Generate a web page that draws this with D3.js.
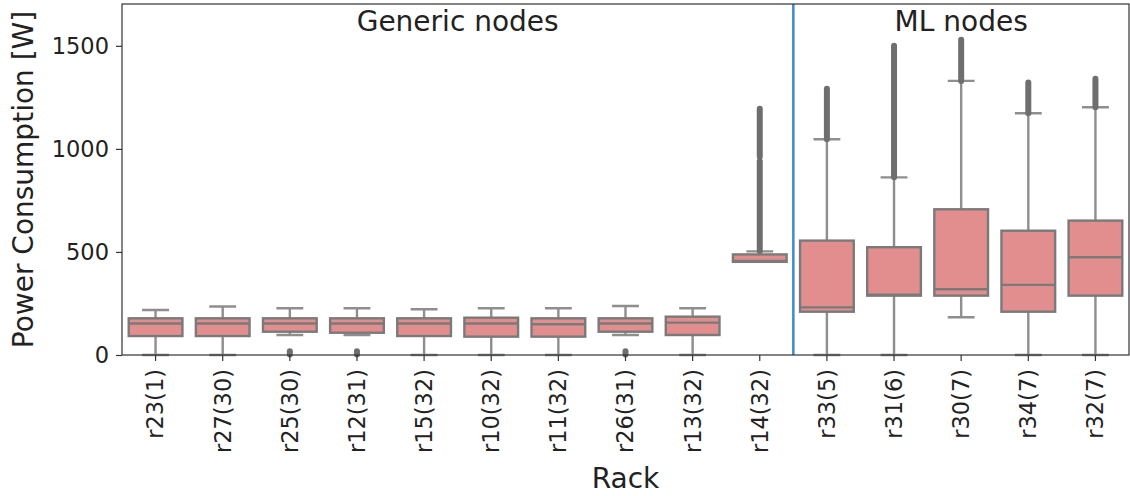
<!DOCTYPE html>
<html>
<head>
<meta charset="utf-8">
<script src="https://cdn.jsdelivr.net/npm/d3@7.9.0/dist/d3.min.js"></script>
<style>
  html, body { margin: 0; padding: 0; background: #fff; }
  svg { display: block; font-family: "DejaVu Sans", sans-serif; }
</style>
</head>
<body>
<svg id="chart" width="1130" height="496"></svg>
<script>
// rack labels (node count in brackets)
const racks = ["r23(1)", "r27(30)", "r25(30)", "r12(31)", "r15(32)", "r10(32)", "r11(32)",
  "r26(31)", "r13(32)", "r14(32)", "r33(5)", "r31(6)", "r30(7)", "r34(7)", "r32(7)"];

// box statistics per rack, in W
const whiskerLow  = [0, 0, 97, 97, 0, 0, 0, 97, 0, 452, 0, 0, 183, 0, 0];
const q1          = [92, 92, 113, 108, 92, 89, 89, 113, 97, 452, 210, 288, 288, 210, 288];
const median      = [153, 153, 153, 153, 153, 153, 149, 153, 157, 456, 231, 292, 319, 340, 474];
const q3          = [178, 178, 178, 178, 178, 181, 178, 178, 186, 488, 555, 523, 707, 603, 652];
const whiskerHigh = [218, 235, 227, 227, 222, 227, 227, 238, 227, 503, 1047, 862, 1330, 1173, 1202];

// outlier ranges (dense flier strips): [rack, from, to]
const outliers = [
  ["r25(30)", 3, 18], ["r12(31)", 3, 18], ["r26(31)", 3, 18],
  ["r14(32)", 505, 940], ["r14(32)", 962, 1195],
  ["r33(5)", 1047, 1292], ["r31(6)", 862, 1500], ["r30(7)", 1330, 1530],
  ["r34(7)", 1173, 1322], ["r32(7)", 1202, 1340]
];

const yTicks = [0, 500, 1000, 1500];
const groups = [
  { label: "Generic nodes", from: "r23(1)", to: "r14(32)" },
  { label: "ML nodes", from: "r33(5)", to: "r32(7)" }
];

const margin = { top: 4, right: 1, bottom: 141, left: 122 };
const width = 1130, height = 496;
const font = "DejaVu Sans, sans-serif";

const svg = d3.select("#chart");

const x = d3.scaleBand()
  .domain(racks)
  .range([margin.left, width - margin.right])
  .padding(0);

const y = d3.scaleLinear()
  .domain([0, 1703])
  .range([height - margin.bottom, margin.top]);

const boxFill = "#e28e8e";
const lineGray = "#7a7a7a";
const flierGray = "#6e6e6e";
const boxW = x.bandwidth() * 0.8;
const capW = boxW * 0.5;

const data = racks.map((r, i) => ({
  rack: r, lo: whiskerLow[i], q1: q1[i], med: median[i], q3: q3[i], hi: whiskerHigh[i]
}));

const plot = svg.append("g");

// whiskers
plot.selectAll(".whisker")
  .data(data)
  .enter()
  .append("path")
  .attr("d", d => {
    let cx = x(d.rack) + x.bandwidth() / 2;
    return `M${cx},${y(d.lo)}V${y(d.q1)}M${cx},${y(d.q3)}V${y(d.hi)}`
      + `M${cx - capW / 2},${y(d.lo)}H${cx + capW / 2}`
      + `M${cx - capW / 2},${y(d.hi)}H${cx + capW / 2}`;
  })
  .attr("fill", "none")
  .attr("stroke", lineGray)
  .attr("stroke-opacity", 0.85)
  .attr("stroke-width", 2.4);

// fliers
plot.selectAll(".flier")
  .data(outliers)
  .enter()
  .append("line")
  .attr("x1", d => x(d[0]) + x.bandwidth() / 2)
  .attr("x2", d => x(d[0]) + x.bandwidth() / 2)
  .attr("y1", d => y(d[1]))
  .attr("y2", d => y(d[2]))
  .attr("stroke", flierGray)
  .attr("stroke-width", 6)
  .attr("stroke-linecap", "round");

// boxes
plot.selectAll(".box")
  .data(data)
  .enter()
  .append("rect")
  .attr("x", d => x(d.rack) + (x.bandwidth() - boxW) / 2)
  .attr("y", d => y(d.q3))
  .attr("width", boxW)
  .attr("height", d => y(d.q1) - y(d.q3))
  .attr("fill", boxFill)
  .attr("stroke", lineGray)
  .attr("stroke-width", 2.4);

// medians
plot.selectAll(".median")
  .data(data)
  .enter()
  .append("line")
  .attr("x1", d => x(d.rack) + (x.bandwidth() - boxW) / 2)
  .attr("x2", d => x(d.rack) + (x.bandwidth() + boxW) / 2)
  .attr("y1", d => y(d.med))
  .attr("y2", d => y(d.med))
  .attr("stroke", lineGray)
  .attr("stroke-width", 2.4);

// separator between generic and ML racks
const sepX = x("r33(5)");
svg.append("line")
  .attr("x1", sepX).attr("x2", sepX)
  .attr("y1", margin.top).attr("y2", height - margin.bottom)
  .attr("stroke", "#3d8ccc")
  .attr("stroke-width", 2.5);

// group titles
svg.selectAll(".group")
  .data(groups)
  .enter()
  .append("text")
  .attr("x", d => (x(d.from) + x(d.to) + x.bandwidth()) / 2)
  .attr("y", 31)
  .attr("text-anchor", "middle")
  .attr("font-size", 28)
  .attr("fill", "#222")
  .text(d => d.label);

// axes
const xAxis = svg.append("g")
  .attr("transform", `translate(0,${height - margin.bottom})`)
  .call(d3.axisBottom(x).tickSize(6).tickPadding(8))
  .attr("font-family", font)
  .attr("font-size", 22.5);

xAxis.selectAll("text")
  .attr("fill", "#222")
  .attr("transform", "rotate(-90)")
  .attr("text-anchor", "end")
  .attr("x", -14)
  .attr("y", 0)
  .attr("dy", "0.35em");

const yAxis = svg.append("g")
  .attr("transform", `translate(${margin.left},0)`)
  .call(d3.axisLeft(y).tickValues(yTicks).tickFormat(d3.format("d")).tickSize(6).tickPadding(7))
  .attr("font-family", font)
  .attr("font-size", 22.5);

yAxis.selectAll("text")
  .attr("fill", "#222");

svg.selectAll(".domain").remove();
svg.selectAll(".tick line").attr("stroke", "#333").attr("stroke-width", 1.2);

// frame
svg.append("rect")
  .attr("x", margin.left)
  .attr("y", margin.top)
  .attr("width", width - margin.right - margin.left)
  .attr("height", height - margin.bottom - margin.top)
  .attr("fill", "none")
  .attr("stroke", "#333")
  .attr("stroke-width", 1.2);

// axis titles
svg.append("text")
  .attr("x", (margin.left + width - margin.right) / 2)
  .attr("y", 488)
  .attr("text-anchor", "middle")
  .attr("font-size", 28)
  .attr("fill", "#222")
  .text("Rack");

svg.append("text")
  .attr("transform", `translate(33,${(margin.top + height - margin.bottom) / 2}) rotate(-90)`)
  .attr("text-anchor", "middle")
  .attr("font-size", 28)
  .attr("fill", "#222")
  .text("Power Consumption [W]");
</script>
</body>
</html>
